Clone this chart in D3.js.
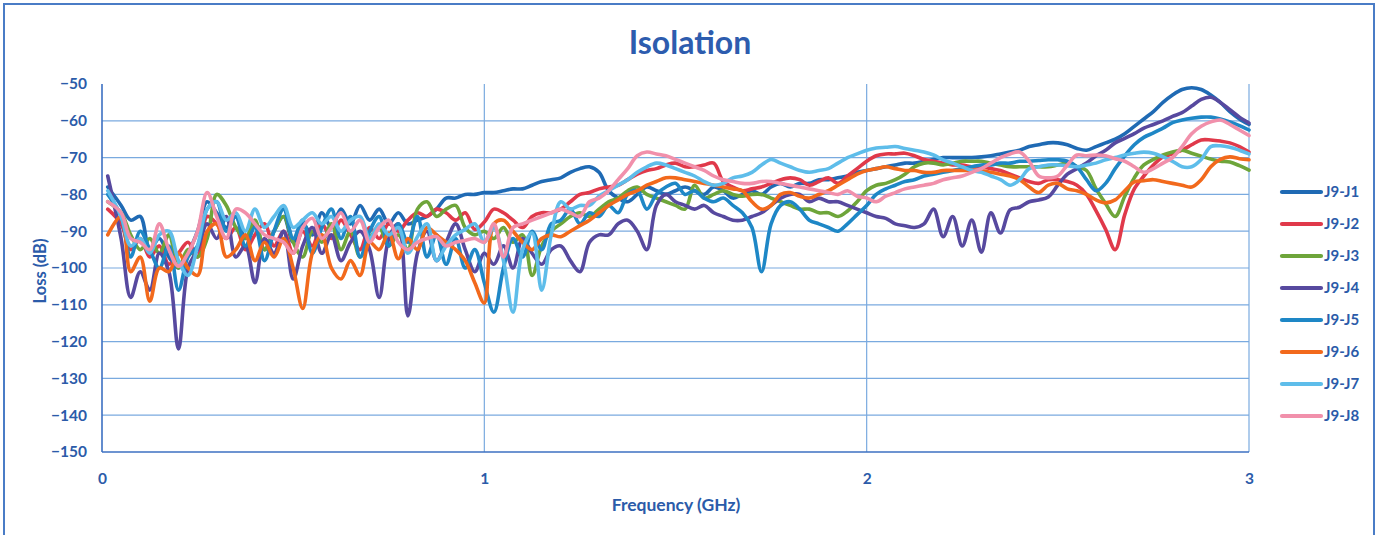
<!DOCTYPE html>
<html>
<head>
<meta charset="utf-8">
<script src="https://cdn.jsdelivr.net/npm/d3@7"></script>
<style>
  html, body { margin: 0; padding: 0; background: #ffffff; }
  svg { display: block; }
  text { font-family: Lato, "Open Sans", "DejaVu Sans", sans-serif; }
</style>
</head>
<body>
<svg id="chart" width="1385" height="535"></svg>
<script>
// ---------- DATA ----------
const chartTitle = "Isolation";
const xTitle = "Frequency (GHz)";
const yTitle = "Loss (dB)";
const xTickValues = [0, 1, 2, 3];
const yTickValues = [-50, -60, -70, -80, -90, -100, -110, -120, -130, -140, -150];
const seriesNames = ["J9-J1", "J9-J2", "J9-J3", "J9-J4", "J9-J5", "J9-J6", "J9-J7", "J9-J8"];

const freq = [0.015,0.05,0.075,0.1,0.125,0.15,0.175,0.2,0.225,0.25,
0.275,0.3,0.325,0.35,0.375,0.4,0.425,0.45,0.475,0.5,
0.525,0.55,0.575,0.6,0.625,0.65,0.675,0.7,0.725,0.75,
0.775,0.8,0.825,0.85,0.875,0.9,0.925,0.95,0.975,1.0,
1.025,1.05,1.075,1.1,1.125,1.15,1.175,1.2,1.225,1.25,
1.275,1.3,1.325,1.35,1.375,1.4,1.425,1.45,1.475,1.5,
1.525,1.55,1.575,1.6,1.625,1.65,1.675,1.7,1.725,1.75,
1.775,1.8,1.825,1.85,1.875,1.9,1.925,1.95,1.975,2.0,
2.025,2.05,2.075,2.1,2.125,2.15,2.175,2.2,2.225,2.25,
2.275,2.3,2.325,2.35,2.375,2.4,2.425,2.45,2.475,2.5,
2.525,2.55,2.575,2.6,2.625,2.65,2.675,2.7,2.725,2.75,
2.775,2.8,2.825,2.85,2.875,2.9,2.925,2.95,2.975,3.0];

const j9j1 = [-78,-83,-87,-86,-95,-92,-97,-100,-96,-90,
 -82,-85,-89,-86,-92,-88,-95,-90,-86,-93,
 -88,-91,-85,-89,-84,-88,-83,-87,-84,-88,
 -85,-88,-87,-86,-84,-81,-81,-80,-80,-79.5,
 -79.5,-79,-78.5,-78.5,-77.5,-76.5,-76,-75.5,-74,-73,
 -72.5,-74,-79,-81,-82,-80,-78,-79,-80,-79,
 -78,-79,-80,-78,-79,-81,-80,-79,-80,-78,
 -77,-78,-77,-77,-76,-76,-75.5,-75,-74,-73.5,
 -73,-72.5,-72,-71.5,-71.5,-71,-70.5,-70,-70,-70,
 -70,-69.8,-69.5,-69,-68.5,-68,-67,-66.5,-66,-66,
 -66.5,-67.5,-68,-67,-66,-65,-63.5,-61.5,-59.5,-57.5,
 -55,-53,-51.5,-51,-51.5,-53,-55,-57.5,-59.5,-61];

const j9j2 = [-84,-88,-95,-92,-97,-94,-99,-96,-93,-97,
 -86,-88,-92,-89,-95,-91,-88,-94,-90,-96,
 -90,-94,-88,-92,-87,-91,-95,-89,-92,-88,
 -90,-87,-85,-86,-84,-85,-87,-85,-89.5,-87.5,
 -84,-85,-87,-89,-86,-85,-85,-84,-82,-80,
 -79.5,-78.5,-78,-77.5,-76,-74.5,-73.5,-73,-72,-71.5,
 -72.5,-72.5,-72,-71.5,-76.5,-78,-79,-78.5,-78,-77,
 -76,-75.5,-76,-77.5,-76.5,-75.5,-77,-75,-73,-71,
 -69.5,-69,-69,-68.8,-69.5,-70.5,-71,-71.5,-72,-72,
 -72.5,-72.5,-73,-73.5,-74.5,-75.5,-76.5,-77,-76,-76,
 -76.5,-77.5,-80,-84.5,-89.5,-95,-85.5,-78.5,-75,-72,
 -69.8,-69,-68,-66.5,-65.2,-65.2,-65.5,-66,-67,-68.5];

const j9j3 = [-82,-85,-91,-95,-92,-96,-91,-100,-95,-97,
 -92,-80,-83,-89,-92,-87,-95,-90,-86,-93,
 -97,-90,-93,-88,-95,-90,-97,-92,-89,-94,
 -91,-95,-84,-82,-86,-84,-83,-89,-91,-90,
 -92,-89,-93,-91,-102,-94,-90,-88,-86,-85,
 -86,-84,-82,-81,-79,-78,-80,-81,-82,-83,
 -84,-77.5,-81,-80,-79,-80,-80.5,-80,-80,-81,
 -82,-83,-84,-84,-85,-85,-86,-84.5,-82,-79,
 -77.5,-77,-76,-74.5,-72.5,-71.5,-71.5,-72,-71.5,-71,
 -71,-71,-71.5,-72,-72.5,-72.5,-72.5,-72.5,-72.5,-72,
 -71.5,-72.5,-73.5,-78.5,-82.5,-86,-80.5,-75.5,-72,-70.5,
 -69.3,-68.5,-68,-68.8,-69.6,-70.4,-71,-71.2,-72.2,-73.4];

const j9j4 = [-75,-92,-108,-101,-106,-96,-101,-122,-100,-95,
 -88,-92,-86,-97,-94,-104,-92,-96,-90,-103,
 -94,-89,-96,-91,-98,-93,-90,-95,-108,-92,
 -88,-113,-96,-90,-98,-93,-88,-95,-101,-96,
 -99,-94,-100,-92,-96,-99,-95,-94,-98,-101,
 -93,-91,-91,-88,-87,-90,-95,-83,-80,-82,
 -83,-84,-83,-85,-86,-87,-87,-86,-85,-83,
 -81,-80,-80,-82,-81,-82,-82,-83,-84,-85,
 -86,-86.5,-88,-88.5,-89,-88,-84,-91.5,-86,-94,
 -87,-95.7,-85,-90.5,-84.2,-83.5,-82,-81.5,-80.7,-77.5,
 -74.5,-73,-71.5,-69.5,-68,-66,-64.8,-63.5,-62,-61,
 -60,-58.8,-57.8,-56,-54.2,-53.6,-55,-57,-59,-60.6];

const j9j5 = [-80,-86,-97,-90,-95,-100,-94,-106,-97,-94,
 -84,-82,-90,-86,-94,-89,-98,-90,-84,-92,
 -87,-96,-89,-84,-92,-86,-97,-90,-86,-94,
 -88,-93,-86,-97,-91,-99,-92,-100,-95,-104,
 -112,-100,-92,-97,-90,-95,-88,-87,-84,-88,
 -85,-86,-83,-85,-80,-79,-84,-80,-78,-77,
 -80,-79,-81,-82,-81,-83,-85,-89,-101,-88,
 -83,-82,-84,-87,-88,-89,-90,-88,-85.5,-83,
 -80,-78.5,-77.5,-76.5,-76,-75,-74.5,-74,-73.5,-73,
 -72.5,-72,-72,-71.5,-71.5,-71,-71,-70.8,-70.6,-70.6,
 -71,-72.5,-76,-79,-77,-73,-69.5,-66.5,-64.5,-63.3,
 -62,-60.5,-59.8,-59.3,-59,-59,-59.5,-60.3,-61.3,-62.5];

const j9j6 = [-91,-86,-101,-97,-109,-100,-101,-96,-100,-102,
 -90,-88,-97,-95,-91,-98,-93,-97,-92,-100,
 -111,-96,-91,-100,-103,-98,-102,-93,-95,-90.5,
 -97.5,-92,-95,-89,-91,-93,-95,-98,-104,-109.5,
 -88,-87,-90,-93,-95,-92,-91,-91.5,-90,-88.5,
 -87,-85,-83,-81.5,-80,-79,-77.5,-76.5,-75.5,-75.5,
 -76,-76.5,-77,-77.5,-78,-78.5,-79,-82,-84,-83,
 -80,-79.5,-80.5,-81,-80,-79,-77.5,-76,-74.5,-73.5,
 -73,-72.5,-73,-73.5,-73.5,-74,-74,-73.5,-73.5,-73.5,
 -73.5,-73.5,-74,-74.5,-75,-76,-78,-79.5,-77.5,-77,
 -78.5,-79,-80,-81.5,-82.3,-81.5,-79,-76.6,-76.3,-76,
 -76.5,-77,-77.5,-78,-76,-72.5,-70.5,-69.8,-70.3,-70.6];

const j9j7 = [-79,-86,-94,-92,-96,-91,-90,-98,-102,-94,
 -84,-82,-87,-85,-90,-84,-89,-86,-83,-89,
 -87,-85,-88,-86,-90,-87,-86,-92,-88,-91,
 -89,-96,-91.5,-88,-98,-94,-91,-89.5,-88,-93,
 -89,-98,-112,-95,-90.5,-106,-91,-82,-84,-83,
 -83,-80.5,-79,-77.5,-76,-74,-72.5,-71.5,-72,-73,
 -74,-75,-76.5,-77.5,-77,-75.5,-75,-74,-72,-70.5,
 -71.5,-72.5,-73.5,-74,-73.5,-73,-71.5,-70,-69,-68,
 -67.4,-67.2,-67,-67.5,-68,-68.5,-69.3,-70.6,-71.5,-72.5,
 -73.5,-74,-75,-76,-77.5,-76,-73,-72.5,-72,-72,
 -72.2,-72.5,-72,-71.5,-70.6,-70,-69.3,-68.8,-68.5,-68.8,
 -69.8,-71,-72.5,-72.5,-70.5,-67,-66.8,-67.2,-68,-69];

const j9j8 = [-82,-85,-92,-93,-95,-88,-95,-99.5,-96,-90,
 -79.5,-86,-92,-84,-85,-88,-91,-92,-93,-96,
 -89,-86.5,-92,-89,-85,-90,-87,-93,-89,-87,
 -93,-95,-93,-92,-91.5,-94,-93,-92.5,-92,-93,
 -88,-97,-89,-88,-87,-86,-85,-84,-85,-86,
 -82,-81,-79,-76,-73,-69.5,-68.5,-69,-69.5,-70.5,
 -71.5,-72.5,-73.5,-75,-76,-76.5,-77,-77,-76.5,-76.5,
 -77,-77.5,-78,-78.5,-79,-79.5,-80,-79,-80.5,-81,
 -82,-80.5,-79.5,-78.5,-78,-77.5,-77,-76,-75.5,-75,
 -74,-73,-71.5,-70,-69,-68.5,-71,-75,-75.5,-75,
 -72,-69.3,-69.5,-69.3,-69.5,-70.3,-71,-72.5,-74,-73,
 -71.5,-70,-67,-63.5,-61.5,-60.3,-59.8,-61,-62.5,-64];

const seriesValues = [j9j1, j9j2, j9j3, j9j4, j9j5, j9j6, j9j7, j9j8];
const seriesColors = ["#1F6AB4", "#E0394A", "#6EA53A", "#57499F", "#1E87C6", "#F2691C", "#5EBDEA", "#F190AB"];

// ---------- CHART ----------
const svg = d3.select("#chart");
const plotL = 102, plotR = 1249, plotT = 84, plotB = 452;
const x = d3.scaleLinear().domain([0, 3]).range([plotL, plotR]);
const y = d3.scaleLinear().domain([-150, -50]).range([plotB, plotT]);
const textColor = "#2B5BA9";
const gridColor = "#7AAADF";
const axisColor = "#3C70C2";

// outer frame
svg.append("rect").attr("x", 4).attr("y", 4).attr("width", 1370).attr("height", 545)
  .attr("fill", "none").attr("stroke", "#4A7CC6").attr("stroke-width", 2);

// horizontal gridlines
svg.append("g").selectAll("line")
  .data(yTickValues.filter(v => v !== -50 && v !== -150))
  .join("line")
  .attr("x1", plotL).attr("x2", plotR)
  .attr("y1", d => y(d)).attr("y2", d => y(d))
  .attr("stroke", gridColor).attr("stroke-width", 1.2);

// vertical gridlines
svg.append("g").selectAll("line")
  .data(xTickValues.filter(v => v !== 0))
  .join("line")
  .attr("x1", d => x(d)).attr("x2", d => x(d))
  .attr("y1", y(-50)).attr("y2", y(-150))
  .attr("stroke", gridColor).attr("stroke-width", 1.2);

// axis lines
svg.append("line").attr("x1", plotL).attr("x2", plotL).attr("y1", y(-50)).attr("y2", y(-150))
  .attr("stroke", axisColor).attr("stroke-width", 1.6);
svg.append("line").attr("x1", plotL).attr("x2", plotR).attr("y1", y(-150)).attr("y2", y(-150))
  .attr("stroke", axisColor).attr("stroke-width", 1.6);

// y axis labels
const yAxis = svg.append("g").attr("transform", `translate(${plotL},0)`)
  .call(d3.axisLeft(y).tickValues(yTickValues).tickSize(0).tickPadding(15).tickFormat(d3.format("d")));
yAxis.select(".domain").remove();
yAxis.selectAll("text").attr("fill", textColor).style("font-size", "15.5px").style("font-weight", "700");

// x axis labels
const xAxis = svg.append("g").attr("transform", `translate(0,${plotB})`)
  .call(d3.axisBottom(x).tickValues(xTickValues).tickSize(0).tickPadding(21).tickFormat(d3.format("d")));
xAxis.select(".domain").remove();
xAxis.selectAll("text").attr("fill", textColor).style("font-size", "15.5px").style("font-weight", "700");

// titles
svg.append("text").attr("x", 690).attr("y", 54).attr("text-anchor", "middle")
  .attr("fill", "#2D5CAE").style("font-size", "32px").style("font-weight", "700").text(chartTitle);
svg.append("text").attr("x", 676).attr("y", 511).attr("text-anchor", "middle")
  .attr("fill", textColor).style("font-size", "17.5px").style("font-weight", "700").text(xTitle);
svg.append("text").attr("transform", "translate(46,271) rotate(-90)").attr("text-anchor", "middle")
  .attr("fill", textColor).style("font-size", "16.5px").style("font-weight", "700").text(yTitle);

// series lines
const line = d3.line()
  .x(d => x(d[0])).y(d => y(d[1]))
  .curve(d3.curveCatmullRom.alpha(0.5));

svg.append("g").selectAll("path")
  .data(seriesValues.map((vals, i) => ({ name: seriesNames[i], color: seriesColors[i], pts: freq.map((f, k) => [f, vals[k]]) })))
  .join("path")
  .attr("d", d => line(d.pts))
  .attr("fill", "none")
  .attr("stroke", d => d.color)
  .attr("stroke-width", 3.6)
  .attr("stroke-linejoin", "round")
  .attr("stroke-linecap", "round");

// legend
const legend = svg.append("g");
const lg = legend.selectAll("g").data(seriesNames).join("g")
  .attr("transform", (d, i) => `translate(1282,${192 + i * 32})`);
lg.append("line").attr("x1", 0).attr("x2", 39).attr("y1", 0).attr("y2", 0)
  .attr("stroke", (d, i) => seriesColors[i]).attr("stroke-width", 4.2).attr("stroke-linecap", "round");
lg.append("text").attr("x", 42).attr("y", 0).attr("dy", "0.35em")
  .attr("fill", textColor).style("font-size", "15px").style("font-weight", "700").text(d => d);
</script>
</body>
</html>
